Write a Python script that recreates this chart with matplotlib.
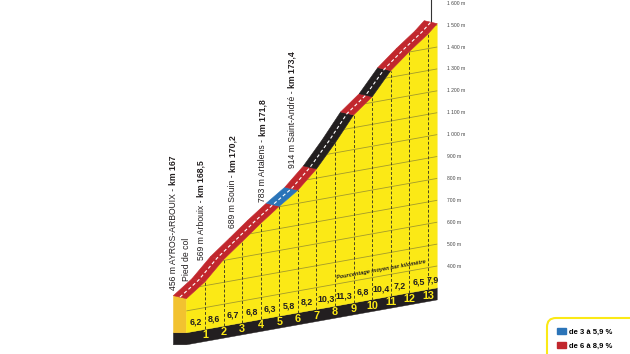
import numpy as np
import matplotlib.pyplot as plt
from matplotlib.patches import Polygon, Patch, FancyBboxPatch

# climb data (Hautacam from Ayros-Arbouix)
start_elev = 456
climb_km = 13.5
grades = [6.2, 8.6, 6.7, 6.8, 6.3, 5.8, 8.2, 10.3, 11.3, 6.8, 10.4, 7.2, 6.5, 7.9]
km_marks = list(range(1, 14))
elev_ticks = list(range(400, 1700, 100))
grid_elevs = list(range(400, 1600, 100))

place_elev = [456, 569, 689, 783, 914]
place_name = ['AYROS-ARBOUIX', 'Arbouix', 'Souin', 'Artalens', 'Saint-André']
place_km = ['167', '168,5', '170,2', '171,8', '173,4']
legend_labels = ['de 3 à 5,9 %', 'de 6 à 8,9 %']

YELLOW = '#fbe916'
SIDE = '#f2c230'
RED = '#c1272d'
BLUE = '#2b74b8'
BLACK = '#231f20'
GRIDC = '#a39b2c'

FONT = ['Liberation Sans', 'DejaVu Sans']
plt.rcParams['font.family'] = FONT

# layout of the drawing (pixels)
W, H = 630, 354
PX_KM = 18.58       # px per km
PX_M = 0.219        # px per metre
X0_PX = 186.4       # km 0
Y400_PX = 266       # 400 m at the right end (from top)
SLANT = 0.179       # base rises this many px per px to the right
SKEW = SLANT * PX_KM / PX_M
BASE = 300
BAND = 12 / PX_M
DX = -13 / PX_KM
DY = 3 / PX_M
GAP = 9 * 0.72      # label gap above the road, points


def sk(x, e):
    return e + SKEW * (np.asarray(x) - climb_km)


def grade_color(g):
    if g < 6:
        return BLUE
    if g < 9:
        return RED
    return BLACK


bounds = np.minimum(np.arange(len(grades) + 1), climb_km)
elev = start_elev + np.concatenate([[0], np.cumsum(np.array(grades) * 10 * np.diff(bounds))])

fig = plt.figure(figsize=(W / 100, H / 100), dpi=100)
ax = fig.add_axes([0, 0, 1, 1])
ax.set_xlim(-X0_PX / PX_KM, (W - X0_PX) / PX_KM)
ytop = 400 + Y400_PX / PX_M
ax.set_ylim(400 - (H - Y400_PX) / PX_M, ytop)
ax.axis('off')

end = bounds[-1]
b0, bend = sk(0, BASE), sk(end, BASE)
e0 = sk(0, elev[0])

# black base band
ax.add_patch(Polygon([(DX, b0), (0, b0), (end, bend), (end, bend - BAND),
                      (0, b0 - BAND), (DX, b0 - BAND)], closed=True,
                     fc=BLACK, ec=BLACK, lw=0.3, zorder=2))
# side face
ax.add_patch(Polygon([(DX, b0), (0, b0), (0, e0), (DX, e0 + DY)],
                     closed=True, fc=SIDE, ec=SIDE, lw=0.3, zorder=2))
# front face
front = Polygon(np.column_stack([np.concatenate([bounds, bounds[::-1]]),
                                 np.concatenate([sk(bounds, elev), sk(bounds[::-1], BASE)])]),
                closed=True, fc=YELLOW, ec=YELLOW, lw=0.3, zorder=2)
ax.add_patch(front)

for e in grid_elevs:
    ln, = ax.plot([0, end], [sk(0, e), sk(end, e)], color=GRIDC, lw=0.6, zorder=3)
    ln.set_clip_path(front)

for k in km_marks:
    ax.plot([k, k], [sk(k, BASE), sk(k, elev[k])], color='#4a4620', lw=0.7,
            dashes=(3, 2), zorder=3)

# summit marker
ax.plot([end + DX / 2] * 2, [elev[-1], ytop], color='#333333', lw=0.8, zorder=1)

# road band
for i, g in enumerate(grades):
    x1, x2 = bounds[i], bounds[i + 1]
    y1, y2 = sk(x1, elev[i]), sk(x2, elev[i + 1])
    c = grade_color(g)
    ax.add_patch(Polygon([(x1, y1), (x2, y2), (x2 + DX, y2 + DY), (x1 + DX, y1 + DY)],
                         closed=True, fc=c, ec=c, lw=0.4, zorder=4))
ax.plot(bounds + DX / 2, sk(bounds, elev) + DY / 2, color='white', lw=0.8,
        dashes=(3, 2.2), zorder=5)

# percentages and km numbers
for i, g in enumerate(grades):
    xc = (bounds[i] + bounds[i + 1]) / 2
    ax.text(xc, sk(xc, BASE) + 9 / PX_M, f'{g:.1f}'.replace('.', ','), ha='center',
            va='center', fontsize=6.4, fontweight='bold', color=BLACK, zorder=6)
for k in km_marks:
    ax.text(k, sk(k, BASE) - BAND / 2, str(k), ha='center', va='center', fontsize=7.8,
            fontweight='bold', color=YELLOW, zorder=6)

# elevation scale
for e in elev_ticks:
    ax.annotate(f'{e // 1000} {e % 1000:03d} m' if e >= 1000 else f'{e} m',
                xy=(end, e), xytext=(7, 0), textcoords='offset points',
                ha='left', va='center', fontsize=3.6, color='#444444')

ax.annotate('Pourcentage moyen par kilomètre', xy=(10.5, sk(10.5, 400)),
            xytext=(0, 2.5), textcoords='offset points', rotation=np.degrees(np.arctan(SLANT)),
            rotation_mode='anchor', ha='center', va='bottom', fontsize=4.1,
            fontweight='bold', fontstyle='italic', color=BLACK, zorder=6)

# place labels
for i, (e, name, km) in enumerate(zip(place_elev, place_name, place_km)):
    xk = float(km.replace(',', '.')) - float(place_km[0])
    t = ax.annotate(f'{e} m {name} -', xy=(xk, sk(xk, e)), xytext=(-13 * 0.72, GAP),
                    textcoords='offset points', rotation=90, rotation_mode='anchor',
                    ha='left', va='center', fontsize=6.2, color=BLACK)
    ax.annotate(f'km {km}', xy=(0.5, 1), xycoords=t, xytext=(0, 2),
                textcoords='offset points', rotation=90, rotation_mode='anchor',
                ha='left', va='center', fontsize=6.2, fontweight='bold', color=BLACK)
    if i == 0:
        ax.annotate('Pied de col', xy=(xk, sk(xk, e)), xytext=(0, GAP + 6),
                    textcoords='offset points', rotation=90, rotation_mode='anchor',
                    ha='left', va='center', fontsize=6.2, color=BLACK)

# legend box, cut by the bottom-right corner of the picture
box = FancyBboxPatch((547, -30), 150, H - 318 + 30, boxstyle='round,pad=0,rounding_size=9',
                     fc='white', ec=YELLOW, lw=1.5, transform=None, zorder=7)
fig.patches.append(box)
handles = [Patch(fc=BLUE, ec=BLUE), Patch(fc=RED, ec=RED)]
leg = fig.legend(handles, legend_labels, loc='upper left',
                 bbox_to_anchor=(551 / W, 1 - 322 / H), frameon=False,
                 handlelength=1.1, handleheight=0.8, handletextpad=0.4,
                 labelspacing=0.85, borderpad=0.3,
                 prop={'family': FONT, 'weight': 'bold', 'size': 5.5})
leg.set_zorder(8)

fig.savefig('out.png', dpi=100, facecolor='white')
